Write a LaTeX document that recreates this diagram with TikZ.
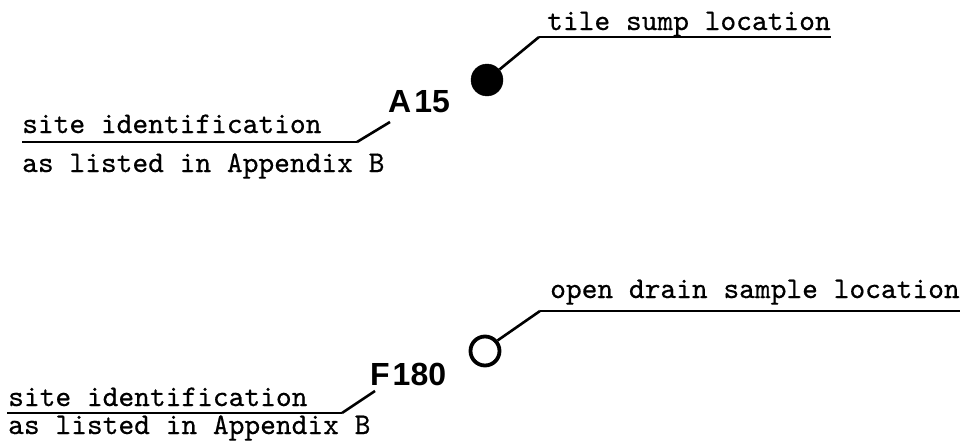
\documentclass[tikz,border=0pt]{standalone}
\usepackage{fontspec}
\newfontfamily\labfont{Liberation Sans}
\newfontfamily\typefont[FakeBold=0.5]{lmmono10-regular.otf}
\begin{document}
\begin{tikzpicture}[x=1pt,y=-1pt,
  mono/.style={font=\typefont\fontsize{30}{36}\selectfont, inner sep=0pt, anchor=base west},
  code/.style={font=\labfont\bfseries\fontsize{32}{36}\selectfont, inner sep=0pt, anchor=base west},
  leader/.style={line width=2.6pt, line join=miter},
  uline/.style={line width=2pt},
  sumpdot/.style={circle, fill=black, draw=black, minimum size=32pt, inner sep=0pt},
  draindot/.style={circle, draw=black, line width=3.8pt, minimum size=29pt, inner sep=0pt}]
\useasboundingbox (0,0) rectangle (969,447);
% ---- top example ----
\node[sumpdot] (sump) at (487,80) {};
\node[mono] (tsl) at (547,30) {tile sump location};
\coordinate (tslk) at (539,37);
\coordinate (tsle) at (831,37);
\draw[leader] (sump.40) -- (tslk);
\draw[uline] (tslk) -- (tsle);
\node[code] (a15) at (388,112) {A\kern3pt15};
\coordinate (a15s) at (390,122);
\coordinate (a15k) at (357,142);
\coordinate (a15e) at (22,142);
\node[mono] (sid1) at (22,133) {site identification};
\node[mono] (app1) at (22,172) {as listed in Appendix B};
\draw[leader] (a15s) -- (a15k);
\draw[uline] (a15k) -- (a15e);
% ---- bottom example ----
\node[draindot] (drain) at (485,351) {};
\node[mono] (ods) at (550,298) {open drain sample location};
\coordinate (odsk) at (540,311);
\coordinate (odse) at (960,311);
\draw[leader] (drain.40) -- (odsk);
\draw[uline] (odsk) -- (odse);
\node[code] (f180) at (370,385) {F\kern3pt180};
\coordinate (f180s) at (375,391);
\coordinate (f180k) at (342,413);
\coordinate (f180e) at (7,413);
\node[mono] (sid2) at (8,406) {site identification};
\node[mono] (app2) at (8,434) {as listed in Appendix B};
\draw[leader] (f180s) -- (f180k);
\draw[uline] (f180k) -- (f180e);
\end{tikzpicture}
\end{document}
